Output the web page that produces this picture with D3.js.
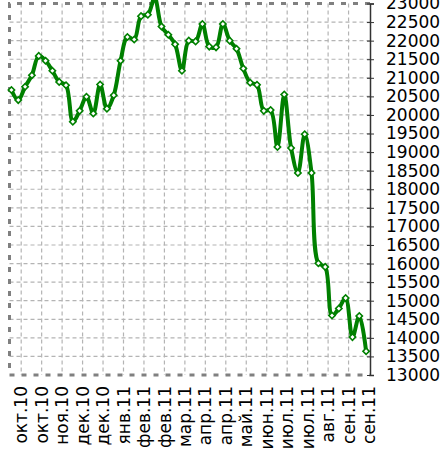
<!DOCTYPE html>
<html>
<head>
<meta charset="utf-8">
<script src="https://cdn.jsdelivr.net/npm/d3@7"></script>
<style>
  body { margin: 0; background: #fff; }
  text { font-family: "DejaVu Sans", sans-serif; }
</style>
</head>
<body>
<svg width="446" height="459"></svg>
<script>
// weekly values, first week starts 2010-09-21
const firstWeek = '2010-09-21';
const values = [
  20670, 20400, 20760, 21070, 21590, 21460, 21190, 20890, 20800, 19820,
  20110, 20490, 20040, 20820, 20170, 20530, 21460, 22100, 22030, 22660,
  22700, 23150, 22380, 22160, 21900, 21190, 22000, 21980, 22450, 21840,
  21820, 22450, 22000, 21780, 21250, 20870, 20810, 20110, 20130, 19140,
  20550, 19110, 18440, 19480, 18440, 16010, 15910, 14600, 14790, 15070,
  14020, 14590, 13640
];
const tickDays = [
  '2010-10-01', '2010-10-22', '2010-11-12', '2010-12-03', '2010-12-24', '2011-01-14',
  '2011-02-04', '2011-02-25', '2011-03-18', '2011-04-08', '2011-04-29', '2011-05-20',
  '2011-06-10', '2011-07-01', '2011-07-22', '2011-08-12', '2011-09-02', '2011-09-23'
];
const tickLabels = [
  'окт.10', 'окт.10', 'ноя.10', 'дек.10', 'дек.10', 'янв.11',
  'фев.11', 'фев.11', 'мар.11', 'апр.11', 'апр.11', 'май.11',
  'июн.11', 'июл.11', 'июл.11', 'авг.11', 'сен.11', 'сен.11'
];
const yTicks = d3.range(13000, 23001, 500);

const svg = d3.select('svg');
const parse = d3.utcParse('%Y-%m-%d');

const plot = { left: 9.5, right: 370, top: 3.5, bottom: 375 };

const start = parse(firstWeek);
const data = values.map((v, i) => ({ date: d3.utcDay.offset(start, 7 * i), value: v }));
const ticks = tickDays.map(parse);

const xScale = d3.scaleUtc()
  .domain([parse('2010-09-19'), parse('2011-09-24')])
  .range([plot.left, plot.right]);

const yScale = d3.scaleLinear()
  .domain([13000, 23000])
  .range([plot.bottom, plot.top]);

// grid
const grid = svg.append('g')
  .attr('stroke', '#b4b4b4')
  .attr('stroke-width', 1.2)
  .attr('stroke-dasharray', '4,3');

grid.selectAll('.h')
  .data(yTicks.slice(1, -1))
  .join('line')
  .attr('x1', plot.left).attr('x2', plot.right)
  .attr('y1', d => yScale(d)).attr('y2', d => yScale(d));

grid.selectAll('.v')
  .data(ticks.slice(0, -1))
  .join('line')
  .attr('x1', d => xScale(d)).attr('x2', d => xScale(d))
  .attr('y1', plot.top).attr('y2', plot.bottom);

// plot border
svg.append('path')
  .attr('d', `M${plot.right},${plot.top}H${plot.left}V${plot.bottom}H${plot.right}`)
  .attr('fill', 'none')
  .attr('stroke', '#808080')
  .attr('stroke-width', 3)
  .attr('stroke-dasharray', '5,7');

// right value axis
const yAxis = d3.axisRight(yScale)
  .tickValues(yTicks)
  .tickSize(4)
  .tickPadding(12)
  .tickFormat(d3.format('d'));

const yAxisGroup = svg.append('g')
  .attr('transform', `translate(${plot.right}, 0)`)
  .call(yAxis);
yAxisGroup.select('.domain').attr('stroke', '#333').attr('stroke-width', 1.5);
yAxisGroup.selectAll('.tick line').attr('stroke', '#333').attr('x1', -3);
yAxisGroup.selectAll('.tick text')
  .attr('font-size', 17)
  .attr('font-family', '"DejaVu Sans", sans-serif')
  .attr('fill', '#000');

// date labels
svg.append('g')
  .selectAll('text')
  .data(ticks)
  .join('text')
  .attr('transform', d => `translate(${xScale(d)}, 386) rotate(-90)`)
  .attr('dy', '0.36em')
  .attr('text-anchor', 'end')
  .attr('font-size', 17)
  .attr('fill', '#000')
  .text((d, i) => tickLabels[i]);

// line
const line = d3.line()
  .x(d => xScale(d.date))
  .y(d => yScale(d.value))
  .curve(d3.curveCatmullRom.alpha(0.5));

svg.append('path')
  .datum(data)
  .attr('fill', 'none')
  .attr('stroke', '#008000')
  .attr('stroke-width', 4)
  .attr('stroke-linejoin', 'round')
  .attr('d', line);

svg.append('g')
  .selectAll('path')
  .data(data)
  .join('path')
  .attr('d', d3.symbol(d3.symbolSquare, 20))
  .attr('transform', d => `translate(${xScale(d.date)}, ${yScale(d.value)}) rotate(45)`)
  .attr('fill', '#fff')
  .attr('stroke', '#008000')
  .attr('stroke-width', 1.6);
</script>
</body>
</html>
